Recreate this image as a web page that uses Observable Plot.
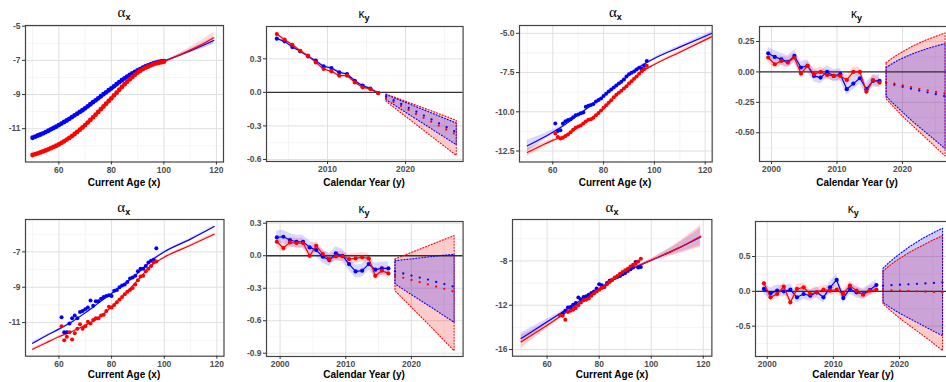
<!DOCTYPE html>
<html><head><meta charset="utf-8">
<script src="https://cdn.jsdelivr.net/npm/d3@7"></script>
<script src="https://cdn.jsdelivr.net/npm/@observablehq/plot@0.6"></script>
<style>
html,body{margin:0;padding:0;background:#fff;overflow:hidden;}
#root{position:relative;width:946px;height:382px;overflow:hidden;background:#fff;}
.pl{position:absolute;}
.ttl{position:absolute;transform:translate(-50%,-50%);white-space:nowrap;color:#000;line-height:1;}
.axt{position:absolute;transform:translate(-50%,-50%) scaleX(0.87);font-family:"Liberation Sans",Arial,sans-serif;font-weight:bold;font-size:11.5px;white-space:nowrap;color:#000;line-height:1;}
</style></head><body><div id="root"></div>
<script>
// ---------- DATA ----------
// Panel 1 (alpha_x, top-left)
const a1Ages = [50,51,52,53,54,55,56,57,58,59,60,61,62,63,64,65,66,67,68,69,70,71,72,73,74,75,76,77,78,79,80,81,82,83,84,85,86,87,88,89,90,91,92,93,94,95,96,97,98,99,100];
const a1Blue = [-11.53,-11.47,-11.40,-11.34,-11.27,-11.20,-11.12,-11.04,-10.96,-10.88,-10.79,-10.70,-10.61,-10.52,-10.42,-10.32,-10.22,-10.12,-10.02,-9.92,-9.81,-9.69,-9.57,-9.45,-9.34,-9.22,-9.10,-8.98,-8.87,-8.75,-8.64,-8.52,-8.40,-8.28,-8.16,-8.05,-7.95,-7.85,-7.76,-7.67,-7.59,-7.51,-7.43,-7.36,-7.29,-7.23,-7.18,-7.13,-7.09,-7.06,-7.04];
const a1Red = [-12.54,-12.49,-12.44,-12.39,-12.33,-12.27,-12.21,-12.14,-12.07,-12.00,-11.92,-11.83,-11.74,-11.64,-11.54,-11.43,-11.31,-11.19,-11.06,-10.93,-10.79,-10.64,-10.49,-10.34,-10.18,-10.02,-9.86,-9.70,-9.54,-9.38,-9.22,-9.05,-8.89,-8.72,-8.56,-8.40,-8.25,-8.11,-7.97,-7.84,-7.72,-7.61,-7.51,-7.43,-7.36,-7.29,-7.23,-7.18,-7.14,-7.11,-7.08];
const a1ExtAges = [100,105,110,115,119];
const a1ExtBlue = [-7.04,-6.75,-6.45,-6.12,-5.84];
const a1ExtBlueLo = [-7.04,-6.81,-6.56,-6.29,-6.06];
const a1ExtBlueHi = [-7.04,-6.69,-6.34,-5.95,-5.62];
const a1ExtRed = [-7.08,-6.75,-6.40,-6.03,-5.68];
const a1ExtRedLo = [-7.08,-6.84,-6.57,-6.29,-6.01];
const a1ExtRedHi = [-7.08,-6.66,-6.23,-5.77,-5.35];

// Panel 3 (alpha_x, top third)
const a2FitAges = [50,55,60,65,70,75,80,85,90,95,100,110,122.5];
const a2LineBlue = [-12.17,-11.75,-11.3,-10.8,-10.2,-9.6,-9.0,-8.35,-7.65,-7.05,-6.6,-5.88,-5.0];
const a2LineRed = [-12.59,-12.2,-11.82,-11.52,-10.98,-10.45,-9.8,-8.95,-8.22,-7.45,-6.99,-6.2,-5.22];
const a2SeBlue = [0.35,0.25,0.15,0.08,0.05,0.04,0.04,0.04,0.05,0.06,0.07,0.1,0.14];
const a2SeRed = [0.25,0.17,0.1,0.06,0.05,0.04,0.04,0.04,0.05,0.06,0.07,0.1,0.14];
const a2PtAges = [61,62,63,64,65,66,67,68,69,70,71,72,73,74,75,76,77,78,79,80,81,82,83,84,85,86,87,88,89,90,91,92,93,94,95,96,97];
const a2PtBlue = [-10.74,-11.23,-11.17,-10.75,-10.6,-10.53,-10.47,-10.35,-10.22,-10.17,-10.1,-10.04,-9.68,-9.62,-9.56,-9.5,-9.35,-9.25,-9.15,-9.0,-8.85,-8.7,-8.58,-8.45,-8.32,-8.2,-8.09,-7.95,-7.75,-7.6,-7.51,-7.43,-7.3,-7.2,-7.24,-7.05,-6.77];
const a2PtRed = [-11.38,-11.6,-11.7,-11.66,-11.55,-11.44,-11.3,-11.15,-11.02,-10.94,-10.87,-10.75,-10.62,-10.5,-10.47,-10.38,-10.22,-10.08,-9.92,-9.75,-9.58,-9.42,-9.26,-9.08,-8.92,-8.78,-8.66,-8.52,-8.38,-8.2,-8.05,-7.9,-7.75,-7.58,-7.42,-7.27,-7.07];

// Panel 5 (alpha_x, bottom-left)
const a3FitAges = [50,55,60,65,70,75,80,85,90,95,100,110,119];
const a3LineBlue = [-12.17,-11.76,-11.37,-10.95,-10.45,-9.9,-9.35,-8.8,-8.2,-7.5,-7.0,-6.28,-5.57];
const a3LineRed = [-12.51,-12.15,-11.8,-11.5,-11.15,-10.75,-10.1,-9.4,-8.6,-7.78,-7.3,-6.63,-6.0];
const a3SeBlue = [0.08,0.06,0.05,0.04,0.03,0.03,0.03,0.03,0.03,0.04,0.04,0.06,0.08];
const a3SeRed = [0.08,0.06,0.05,0.04,0.03,0.03,0.03,0.03,0.03,0.04,0.04,0.06,0.08];
const a3PtAges = [61,62,63,64,65,66,67,68,69,70,71,72,73,74,75,76,77,78,79,80,81,82,83,84,85,86,87,88,89,90,91,92,93,94,95,96,97];
const a3PtBlue = [-10.7,-11.55,-11.55,-11.05,-10.75,-10.6,-10.75,-10.4,-10.35,-10.25,-10.15,-9.75,-10.05,-9.8,-9.8,-9.65,-9.55,-9.5,-9.45,-9.5,-9.2,-9.15,-9.0,-8.9,-8.85,-8.7,-8.5,-8.45,-8.35,-8.1,-7.95,-7.95,-7.8,-7.6,-7.5,-7.45,-6.8];
const a3PtRed = [-11.2,-12.0,-11.8,-11.55,-11.95,-11.6,-11.35,-11.1,-11.35,-11.2,-10.95,-11.05,-10.85,-10.75,-10.75,-10.6,-10.55,-10.35,-10.1,-10.15,-10.0,-9.85,-9.7,-9.55,-9.4,-9.25,-9.15,-9.05,-8.85,-8.6,-8.4,-8.35,-8.1,-7.95,-7.8,-7.6,-7.55];

// Panel 7 (alpha_x, bottom third)
const a4FitAges = [50,60,70,80,90,100,110,119];
const a4LineBlue = [-15.0,-13.5,-12.0,-10.5,-9.0,-7.94,-6.89,-5.83];
const a4LineRed = [-15.3,-13.8,-12.2,-10.6,-9.05,-7.94,-6.89,-5.77];
const a4SeBlue = [0.5,0.25,0.12,0.08,0.08,0.12,0.4,0.8];
const a4SeRed = [0.6,0.3,0.15,0.08,0.08,0.15,0.5,1.0];
const a4PtAges = [65,66,67,68,69,70,71,72,73,74,75,76,77,78,79,80,81,82,83,84,85,86,87,88,89,90,91,92,93,94,95,96];
const a4PtBlue = [-12.9,-12.75,-12.5,-12.2,-12.15,-11.95,-11.8,-11.3,-11.45,-11.25,-11.2,-11.05,-10.9,-10.75,-10.5,-10.1,-10.2,-10.35,-10.0,-9.8,-9.7,-9.55,-9.45,-9.35,-9.2,-9.1,-8.9,-8.75,-8.6,-8.1,-8.6,-8.55];
const a4PtRed = [-12.9,-12.95,-13.3,-12.6,-12.5,-12.4,-12.25,-12.0,-11.75,-11.55,-11.5,-11.4,-11.15,-10.95,-10.75,-10.6,-10.45,-10.35,-10.1,-9.9,-9.7,-9.5,-9.35,-9.15,-9.0,-8.85,-8.7,-8.5,-8.35,-8.25,-8.05,-7.8];

// kappa_y years
const k1Years = [2003.5,2004.5,2005.5,2006.5,2007.5,2008.5,2009.5,2010.5,2011.5,2012.5,2013.5,2014.5,2015.5,2016.5];
const kYears = [1999.5,2000.5,2001.5,2002.5,2003.5,2004.5,2005.5,2006.5,2007.5,2008.5,2009.5,2010.5,2011.5,2012.5,2013.5,2014.5,2015.5,2016.5];
const fcYears = [2017.5,2018.5,2019.5,2020.5,2021.5,2022.5,2023.5,2024.5,2025.5,2026.5];

// Panel 2 (kappa_y, top second)
const k1Blue = [0.48,0.456,0.405,0.367,0.322,0.283,0.232,0.218,0.179,0.164,0.104,0.060,0.033,-0.006];
const k1Red = [0.521,0.471,0.426,0.372,0.328,0.268,0.209,0.188,0.149,0.149,0.089,0.045,0.030,-0.006];
const k1SeBlue = 0.012, k1SeRed = 0.012;
const k1FcBlue = [-0.036,-0.071,-0.106,-0.141,-0.176,-0.212,-0.248,-0.284,-0.32,-0.355];
const k1FcRed = [-0.05,-0.087,-0.124,-0.161,-0.198,-0.234,-0.27,-0.306,-0.342,-0.378];
const k1FcBlueHi = [-0.02,-0.048,-0.076,-0.104,-0.133,-0.161,-0.189,-0.217,-0.246,-0.274];
const k1FcBlueLo = [-0.065,-0.11,-0.155,-0.2,-0.244,-0.289,-0.334,-0.379,-0.423,-0.468];
const k1FcRedHi = [-0.015,-0.04,-0.066,-0.092,-0.118,-0.144,-0.17,-0.197,-0.223,-0.25];
const k1FcRedLo = [-0.08,-0.134,-0.188,-0.241,-0.295,-0.349,-0.402,-0.456,-0.51,-0.563];

// Panel 4 (kappa_y, top right)
const k2Blue = [0.153,0.123,0.104,0.082,0.131,0.036,0.049,-0.033,-0.047,0.0,-0.033,-0.019,-0.142,-0.096,-0.052,-0.142,-0.074,-0.074];
const k2Red = [0.118,0.063,0.090,0.077,0.118,-0.014,0.049,-0.019,0.0,-0.025,-0.033,-0.033,-0.066,0.0,0.0,-0.162,-0.068,-0.088];
const k2SeBlue = 0.05, k2SeRed = 0.04;
const k2FcBlue = [-0.09,-0.103,-0.116,-0.128,-0.14,-0.152,-0.164,-0.176,-0.188,-0.2];
const k2FcRed = [-0.082,-0.094,-0.105,-0.116,-0.127,-0.138,-0.148,-0.158,-0.168,-0.178];
const k2FcBlueHi = [0.036,0.07,0.1,0.125,0.148,0.168,0.186,0.203,0.218,0.232];
const k2FcBlueLo = [-0.2,-0.255,-0.305,-0.355,-0.405,-0.45,-0.495,-0.54,-0.585,-0.63];
const k2FcRedHi = [0.075,0.115,0.15,0.18,0.21,0.235,0.26,0.28,0.3,0.32];
const k2FcRedLo = [-0.22,-0.28,-0.335,-0.39,-0.44,-0.49,-0.54,-0.59,-0.64,-0.69];

// Panel 6 (kappa_y, bottom second)
const k3Blue = [0.169,0.175,0.145,0.129,0.129,0.077,0.052,-0.009,-0.04,0.022,0.0,-0.077,-0.145,-0.138,-0.077,-0.129,-0.117,-0.117];
const k3Red = [0.129,0.071,0.123,0.117,0.117,0.0,0.092,0.015,-0.031,-0.006,-0.005,-0.031,-0.025,-0.015,-0.025,-0.185,-0.138,-0.163];
const k3SeBlue = 0.06, k3SeRed = 0.045;
const k3FcBlue = [-0.145,-0.16,-0.175,-0.19,-0.205,-0.22,-0.237,-0.253,-0.27,-0.286];
const k3FcRed = [-0.185,-0.2,-0.216,-0.232,-0.248,-0.264,-0.28,-0.297,-0.314,-0.332];
const k3FcBlueHi = [-0.046,-0.039,-0.032,-0.026,-0.019,-0.012,-0.005,0.002,0.008,0.013];
const k3FcBlueLo = [-0.26,-0.3,-0.34,-0.378,-0.417,-0.456,-0.495,-0.535,-0.575,-0.615];
const k3FcRedHi = [-0.03,-0.006,0.018,0.042,0.066,0.09,0.114,0.138,0.162,0.185];
const k3FcRedLo = [-0.323,-0.384,-0.445,-0.506,-0.567,-0.628,-0.69,-0.752,-0.815,-0.877];

// Panel 8 (kappa_y, bottom right)
const k4Blue = [0.034,-0.029,0.01,0.0,0.024,-0.086,-0.038,-0.062,-0.014,-0.086,0.057,0.163,-0.096,0.034,-0.014,-0.038,0.019,0.091];
const k4Red = [0.115,-0.086,-0.038,0.067,-0.158,0.034,0.057,-0.038,-0.014,0.024,0.01,0.024,-0.038,0.081,0.01,-0.048,0.01,0.024];
const k4SeBlue = 0.08, k4SeRed = 0.065;
const k4FcBlue = [0.08,0.086,0.092,0.097,0.102,0.107,0.112,0.117,0.122,0.127];
const k4FcRed = [0.02,0.016,0.012,0.008,0.004,0.0,-0.004,-0.008,-0.012,-0.016];
const k4FcBlueHi = [0.33,0.42,0.5,0.57,0.64,0.7,0.76,0.81,0.86,0.905];
const k4FcBlueLo = [-0.158,-0.225,-0.285,-0.34,-0.39,-0.44,-0.49,-0.54,-0.59,-0.636];
const k4FcRedHi = [0.287,0.37,0.44,0.5,0.56,0.61,0.66,0.71,0.755,0.8];
const k4FcRedLo = [-0.18,-0.265,-0.345,-0.42,-0.49,-0.56,-0.63,-0.7,-0.775,-0.85];

// ticks
const ageTicks = [60,80,100,120], ageMinor = [50,70,90,110];
const yearTicks = [2000,2010,2020], yearTicks2 = [2010,2020], yearMinor = [2005,2015,2025];
const y1Ticks = [-5,-7,-9,-11], y1Minor = [-6,-8,-10,-12];
const y3Ticks = [-5,-7.5,-10,-12.5], y3Minor = [-6.25,-8.75,-11.25];
const y5Ticks = [-7,-9,-11], y5Minor = [-6,-8,-10,-12];
const y7Ticks = [-8,-12,-16], y7Minor = [-6,-10,-14];
const yk1Ticks = [0.3,0,-0.3,-0.6], yk1Minor = [0.45,0.15,-0.15,-0.45];
const yk2Ticks = [0.25,0,-0.25,-0.5], yk2Minor = [0.125,-0.125,-0.375,-0.625];
const yk3Ticks = [0.3,0,-0.3,-0.6,-0.9], yk3Minor = [0.15,-0.15,-0.45,-0.75];
const yk4Ticks = [0.5,0,-0.5], yk4Minor = [0.75,0.25,-0.25,-0.75];

// ---------- DRAWING ----------
const BLUE = "#0000ff", RED = "#ff0000";
const root = document.getElementById("root");
const fInt = d => String(d);
const f1 = d => d.toFixed(1);
const f2 = d => d.toFixed(2);

function panel(cfg) {
  const [fl, ft, fr, fb] = cfg.frame;
  const ml = 40, mr = 2, mt = 3, mb = 22;
  const svg = Plot.plot({
    width: fr - fl + ml + mr, height: fb - ft + mt + mb,
    marginLeft: ml, marginRight: mr, marginTop: mt, marginBottom: mb,
    style: {fontFamily: "'Liberation Sans', Arial, sans-serif", fontSize: "8.5px", background: "transparent", overflow: "visible"},
    x: {domain: cfg.xDomain, axis: null},
    y: {domain: cfg.yDomain, axis: null},
    marks: [
      Plot.gridX(cfg.xMinor, {stroke: "#f0f0f0", strokeOpacity: 1, strokeWidth: 0.7}),
      Plot.gridY(cfg.yMinor, {stroke: "#f0f0f0", strokeOpacity: 1, strokeWidth: 0.7}),
      Plot.gridX(cfg.xTicks, {stroke: "#e0e0e0", strokeOpacity: 1, strokeWidth: 1}),
      Plot.gridY(cfg.yTicks, {stroke: "#e0e0e0", strokeOpacity: 1, strokeWidth: 1}),
      ...cfg.marks,
      Plot.frame({stroke: "#444", strokeWidth: 1.2}),
      Plot.axisX(cfg.xTicks, {tickSize: 3, tickPadding: 1.5, tickFormat: fInt, stroke: "#333", fill: "#4d4d4d", fontWeight: "bold", label: null}),
      Plot.axisY(cfg.yTicks, {tickSize: 3, tickPadding: 2, tickFormat: cfg.yFmt, stroke: "#333", fill: "#4d4d4d", fontWeight: "bold", label: null})
    ]
  });
  svg.classList.add("pl");
  svg.style.left = (fl - ml) + "px";
  svg.style.top = (ft - mt) + "px";
  root.appendChild(svg);

  const cx = (fl + fr) / 2;
  const t = document.createElement("div");
  t.className = "ttl";
  t.style.left = cx + "px";
  t.style.top = cfg.titleY + "px";
  t.innerHTML = cfg.kind === "a"
    ? `<span style="font-family:'Liberation Serif',serif;font-size:15px">α</span><span style="font-family:'Liberation Sans',Arial,sans-serif;font-weight:bold;font-size:9px;position:relative;top:3px">x</span>`
    : `<span style="font-family:'Liberation Sans',Arial,sans-serif;font-size:12px">κ</span><span style="font-family:'Liberation Sans',Arial,sans-serif;font-weight:bold;font-size:9px;position:relative;top:3px">y</span>`;
  root.appendChild(t);

  const a = document.createElement("div");
  a.className = "axt";
  a.style.left = cx + "px";
  a.style.top = cfg.axY + "px";
  a.textContent = cfg.kind === "a" ? "Current Age (x)" : "Calendar Year (y)";
  root.appendChild(a);
}

function rows(xs, ys, se) {
  return xs.map((x, i) => {
    const s = Array.isArray(se) ? se[i] : se;
    return {x, y: ys[i], lo: ys[i] - s, hi: ys[i] + s};
  });
}
function fcRows(m, lo, hi) {
  return fcYears.map((x, i) => ({x, m: m[i], lo: lo[i], hi: hi[i]}));
}
function poly(r) {
  const up = r.map(d => ({x: d.x, y: d.hi}));
  const dn = r.map(d => ({x: d.x, y: d.lo})).reverse();
  return [...up, ...dn, up[0]];
}

function kMarks(years, blue, red, seB, seR, fcB, fcR) {
  const hB = rows(years, blue, seB), hR = rows(years, red, seR);
  return [
    Plot.areaY(hB, {x: "x", y1: "lo", y2: "hi", fill: BLUE, fillOpacity: 0.15}),
    Plot.areaY(hR, {x: "x", y1: "lo", y2: "hi", fill: RED, fillOpacity: 0.15}),
    Plot.areaY(fcR, {x: "x", y1: "lo", y2: "hi", fill: RED, fillOpacity: 0.2}),
    Plot.areaY(fcB, {x: "x", y1: "lo", y2: "hi", fill: BLUE, fillOpacity: 0.2}),
    Plot.ruleY([0], {stroke: "#333", strokeWidth: 1.3}),
    Plot.line(poly(fcR), {x: "x", y: "y", stroke: RED, strokeWidth: 1.1, strokeDasharray: "1,2"}),
    Plot.line(poly(fcB), {x: "x", y: "y", stroke: BLUE, strokeWidth: 1.1, strokeDasharray: "1,2"}),
    Plot.line(hB, {x: "x", y: "y", stroke: BLUE, strokeWidth: 1.2}),
    Plot.dot(hB, {x: "x", y: "y", r: 2.1, fill: BLUE}),
    Plot.line(hR, {x: "x", y: "y", stroke: RED, strokeWidth: 1.2}),
    Plot.dot(hR, {x: "x", y: "y", r: 2.1, fill: RED}),
    Plot.line(fcB, {x: "x", y: "m", stroke: BLUE, strokeWidth: 2.3, strokeDasharray: "0,8.5", strokeLinecap: "round"}),
    Plot.line(fcR, {x: "x", y: "m", stroke: RED, strokeWidth: 2.3, strokeDasharray: "0,8.5", strokeLinecap: "round"})
  ];
}

function aFitMarks(ages, lineB, lineR, seB, seR, ptAges, ptB, ptR) {
  const lB = rows(ages, lineB, seB), lR = rows(ages, lineR, seR);
  const pB = ptAges.map((x, i) => ({x, y: ptB[i]})), pR = ptAges.map((x, i) => ({x, y: ptR[i]}));
  return [
    Plot.areaY(lB, {x: "x", y1: "lo", y2: "hi", fill: BLUE, fillOpacity: 0.15, curve: "monotone-x"}),
    Plot.areaY(lR, {x: "x", y1: "lo", y2: "hi", fill: RED, fillOpacity: 0.18, curve: "monotone-x"}),
    Plot.line(lB, {x: "x", y: "y", stroke: BLUE, strokeWidth: 1.2, curve: "monotone-x"}),
    Plot.line(lR, {x: "x", y: "y", stroke: RED, strokeWidth: 1.2, curve: "monotone-x"}),
    Plot.dot(pB, {x: "x", y: "y", r: 2, fill: BLUE}),
    Plot.dot(pR, {x: "x", y: "y", r: 2, fill: RED})
  ];
}

// Panel 1
{
  const pB = a1Ages.map((x, i) => ({x, y: a1Blue[i]})), pR = a1Ages.map((x, i) => ({x, y: a1Red[i]}));
  const eB = a1ExtAges.map((x, i) => ({x, y: a1ExtBlue[i], lo: a1ExtBlueLo[i], hi: a1ExtBlueHi[i]}));
  const eR = a1ExtAges.map((x, i) => ({x, y: a1ExtRed[i], lo: a1ExtRedLo[i], hi: a1ExtRedHi[i]}));
  panel({kind: "a", frame: [25, 24.5, 223, 161], xDomain: [47.3, 122.7], yDomain: [-12.95, -4.96],
    xTicks: ageTicks, xMinor: ageMinor, yTicks: y1Ticks, yMinor: y1Minor, yFmt: fInt, titleY: 12, axY: 183,
    marks: [
      Plot.areaY(eB, {x: "x", y1: "lo", y2: "hi", fill: BLUE, fillOpacity: 0.15}),
      Plot.areaY(eR, {x: "x", y1: "lo", y2: "hi", fill: RED, fillOpacity: 0.15}),
      Plot.line(eB, {x: "x", y: "y", stroke: BLUE, strokeWidth: 1.2}),
      Plot.line(eR, {x: "x", y: "y", stroke: RED, strokeWidth: 1.2}),
      Plot.dot(pB, {x: "x", y: "y", r: 2.4, fill: BLUE}),
      Plot.dot(pR, {x: "x", y: "y", r: 2.4, fill: RED})
    ]});
}
// Panel 2
panel({kind: "k", frame: [265.7, 26, 462.3, 161], xDomain: [2002.18, 2027.38], yDomain: [-0.618, 0.589],
  xTicks: yearTicks2, xMinor: yearMinor, yTicks: yk1Ticks, yMinor: yk1Minor, yFmt: f1, titleY: 13, axY: 183,
  marks: kMarks(k1Years, k1Blue, k1Red, k1SeBlue, k1SeRed, fcRows(k1FcBlue, k1FcBlueLo, k1FcBlueHi), fcRows(k1FcRed, k1FcRedLo, k1FcRedHi))});
// Panel 3
panel({kind: "a", frame: [519, 24.5, 711.7, 161], xDomain: [46.9, 122.75], yDomain: [-13.2, -4.5],
  xTicks: ageTicks, xMinor: ageMinor, yTicks: y3Ticks, yMinor: y3Minor, yFmt: f1, titleY: 12, axY: 183,
  marks: aFitMarks(a2FitAges, a2LineBlue, a2LineRed, a2SeBlue, a2SeRed, a2PtAges, a2PtBlue, a2PtRed)});
// Panel 4
panel({kind: "k", frame: [759.3, 26, 953.7, 161], xDomain: [1998.17, 2027.85], yDomain: [-0.736, 0.373],
  xTicks: yearTicks, xMinor: yearMinor, yTicks: yk2Ticks, yMinor: yk2Minor, yFmt: f2, titleY: 13, axY: 183,
  marks: kMarks(kYears, k2Blue, k2Red, k2SeBlue, k2SeRed, fcRows(k2FcBlue, k2FcBlueLo, k2FcBlueHi), fcRows(k2FcRed, k2FcRedLo, k2FcRedHi))});
// Panel 5
panel({kind: "a", frame: [24.5, 219.3, 223, 356], xDomain: [47.3, 122.7], yDomain: [-12.9, -5.17],
  xTicks: ageTicks, xMinor: ageMinor, yTicks: y5Ticks, yMinor: y5Minor, yFmt: fInt, titleY: 207, axY: 375,
  marks: aFitMarks(a3FitAges, a3LineBlue, a3LineRed, a3SeBlue, a3SeRed, a3PtAges, a3PtBlue, a3PtRed)});
// Panel 6
panel({kind: "k", frame: [265.7, 221, 462.3, 356], xDomain: [1997.93, 2027.87], yDomain: [-0.93, 0.316],
  xTicks: yearTicks, xMinor: yearMinor, yTicks: yk3Ticks, yMinor: yk3Minor, yFmt: f1, titleY: 208, axY: 375,
  marks: kMarks(kYears, k3Blue, k3Red, k3SeBlue, k3SeRed, fcRows(k3FcBlue, k3FcBlueLo, k3FcBlueHi), fcRows(k3FcRed, k3FcRedLo, k3FcRedHi))});
// Panel 7
panel({kind: "a", frame: [512.3, 219.3, 711.7, 356], xDomain: [46.7, 123.3], yDomain: [-16.6, -4.26],
  xTicks: ageTicks, xMinor: ageMinor, yTicks: y7Ticks, yMinor: y7Minor, yFmt: fInt, titleY: 207, axY: 375,
  marks: aFitMarks(a4FitAges, a4LineBlue, a4LineRed, a4SeBlue, a4SeRed, a4PtAges, a4PtBlue, a4PtRed)});
// Panel 8
panel({kind: "k", frame: [755.3, 221, 951.3, 356], xDomain: [1998.23, 2027.85], yDomain: [-0.935, 1.002],
  xTicks: yearTicks, xMinor: yearMinor, yTicks: yk4Ticks, yMinor: yk4Minor, yFmt: f1, titleY: 208, axY: 375,
  marks: kMarks(kYears, k4Blue, k4Red, k4SeBlue, k4SeRed, fcRows(k4FcBlue, k4FcBlueLo, k4FcBlueHi), fcRows(k4FcRed, k4FcRedLo, k4FcRedHi))});
</script></body></html>
